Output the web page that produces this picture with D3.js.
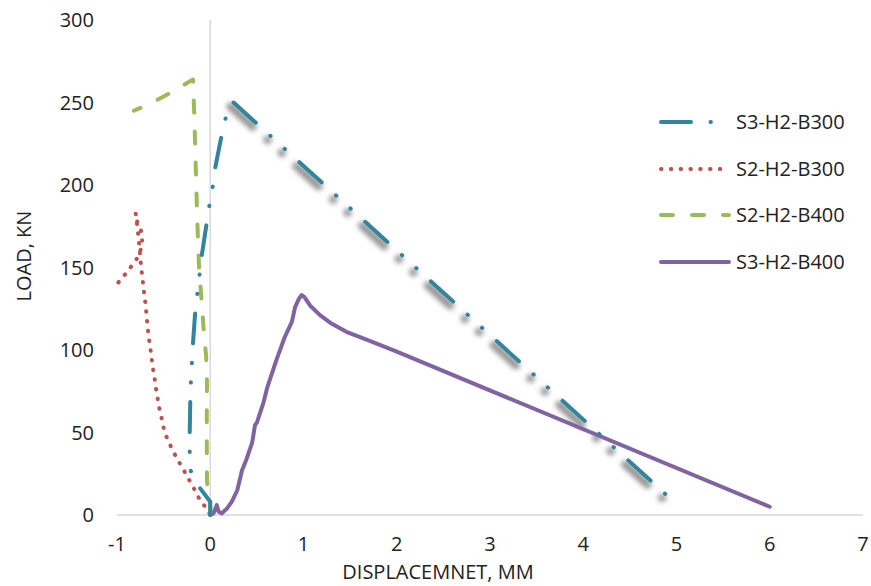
<!DOCTYPE html>
<html><head><meta charset="utf-8">
<script src="https://cdn.jsdelivr.net/npm/d3@7"></script>
<style>
body{margin:0;background:#fff;}
svg{display:block;font-family:'Open Sans',sans-serif;}
</style></head><body>
<div id="chart"></div>
<script>
const xTicks = [-1,0,1,2,3,4,5,6,7];
const yTicks = [0,50,100,150,200,250,300];
const seriesNames = ["S3-H2-B300","S2-H2-B300","S2-H2-B400","S3-H2-B400"];
const colors = ["#31859C","#C0504D","#9BBB59","#8064A2"];

// S3-H2-B300 [displacement, load]
const s3b300 = [[0,0],[0,8],[-0.13,17.8],[-0.214,27.3],[-0.22,38.8],[-0.22,50],[-0.214,70],[-0.207,81.4],[-0.196,93],[-0.185,104],[-0.16,124],[-0.09,157.6],[-0.036,177.8],[-0.007,188.5],[0.029,199.8],[0.054,210.7],[0.125,231],[0.17,241.8],[0.25,250],[4.92,10.7]];
// S2-H2-B300
const s2b300 = [[-0.985,141],[-0.91,146],[-0.85,150.5],[-0.79,155],[-0.75,160],[-0.73,166],[-0.74,172],[-0.78,177],[-0.80,183],[-0.775,171],[-0.764,165],[-0.747,154],[-0.736,148],[-0.725,142.4],[-0.715,136.8],[-0.70,131],[-0.69,125],[-0.68,119],[-0.67,113],[-0.66,108],[-0.645,102],[-0.63,96],[-0.62,90],[-0.60,85],[-0.59,79],[-0.57,73],[-0.555,67],[-0.535,62],[-0.51,56],[-0.49,50],[-0.45,45],[-0.41,40],[-0.36,34.5],[-0.31,29.7],[-0.26,24.8],[-0.21,19.6],[-0.16,14.5],[-0.11,9],[-0.05,4.8],[0,0]];
// S2-H2-B400
const s2b400 = [[0,0],[0,5],[-0.035,20],[-0.037,40],[-0.037,60],[-0.035,80],[-0.045,97],[-0.065,108],[-0.08,120],[-0.1,135],[-0.12,150],[-0.13,165],[-0.14,180],[-0.15,200],[-0.16,220],[-0.17,240],[-0.185,264],[-0.36,258],[-0.52,253],[-0.66,249],[-0.82,245]];
// S3-H2-B400
const s3b400 = [[0,0],[0.035,1],[0.07,6],[0.09,2],[0.125,1],[0.18,4],[0.23,8],[0.29,15],[0.34,27],[0.39,34],[0.45,44],[0.48,54.5],[0.5,56],[0.57,68],[0.61,77],[0.71,94],[0.8,108],[0.875,117],[0.91,126],[0.95,131],[0.98,133.3],[1.01,132],[1.07,127],[1.18,121],[1.30,116],[1.46,111],[1.71,105.5],[2.0,99],[6.0,5]];

const W=871,H=586;
const svg=d3.select("#chart").append("svg").attr("width",W).attr("height",H);
const x=d3.scaleLinear().domain([-1,7]).range([117,863]);
const y=d3.scaleLinear().domain([0,300]).range([515,20]);

const defs=svg.append("defs");
const f=defs.append("filter").attr("id","blur").attr("x","-20%").attr("y","-20%").attr("width","140%").attr("height","140%");
f.append("feGaussianBlur").attr("stdDeviation",2.5);

// axis lines
svg.append("line").attr("x1",x(-1)).attr("x2",x(7)).attr("y1",y(0)).attr("y2",y(0)).attr("stroke","#d9d9d9").attr("stroke-width",1.5);
svg.append("line").attr("x1",x(0)).attr("x2",x(0)).attr("y1",y(300)).attr("y2",y(0)).attr("stroke","#d9d9d9").attr("stroke-width",1.5);

const fs=20;
// tick labels
svg.append("g").selectAll("text").data(xTicks).join("text")
  .attr("x",d=>x(d)).attr("y",551).attr("text-anchor","middle")
  .attr("font-size",fs).attr("fill","#222").text(d=>d);
svg.append("g").selectAll("text").data(yTicks).join("text")
  .attr("x",94).attr("y",d=>y(d)).attr("dy","0.35em").attr("text-anchor","end")
  .attr("font-size",fs).attr("fill","#222").text(d=>d);

svg.append("text").attr("x",438).attr("y",579).attr("text-anchor","middle").attr("font-size",fs).attr("fill","#222").text("DISPLACEMNET, MM");
svg.append("text").attr("transform","translate(31,256) rotate(-90)").attr("text-anchor","middle").attr("font-size",fs).attr("fill","#222").text("LOAD, KN");

const line=d3.line().x(d=>x(d[0])).y(d=>y(d[1]));
const styles=[
  {dash:"30,19.5,0.4,19,0.4,19.5",w:4},
  {dash:"0.5,9.3",w:4},
  {dash:"12,19",w:4},
  {dash:null,w:4}
];

// teal series split at its peak so the dash pattern restarts there
const peakIdx = d3.maxIndex(s3b300, d=>d[1]);
const tealUp = s3b300.slice(0, peakIdx+1);
const tealDown = s3b300.slice(peakIdx);

// shadow for teal descending part
svg.append("path").datum(tealDown)
  .attr("d",line).attr("fill","none").attr("stroke","#8a8a8a").attr("stroke-opacity",0.9)
  .attr("stroke-width",8).attr("stroke-linecap","round").attr("stroke-dasharray",styles[0].dash)
  .attr("transform","translate(-3,4)").attr("filter","url(#blur)");

const drawn=[[s3b400,3],[s2b400,2],[s2b300,1],[tealUp,0],[tealDown,0]];
drawn.forEach(([d,i])=>{
  svg.append("path").datum(d).attr("d",line).attr("fill","none")
    .attr("stroke",colors[i]).attr("stroke-width",styles[i].w)
    .attr("stroke-linecap","round").attr("stroke-linejoin","round")
    .attr("stroke-dasharray",styles[i].dash);
});

// legend
const ly=[122,169,215,262];
const lg=svg.append("g");
seriesNames.forEach((n,i)=>{
  lg.append("line").attr("x1",661).attr("x2",729).attr("y1",ly[i]).attr("y2",ly[i])
    .attr("stroke",colors[i]).attr("stroke-width",4).attr("stroke-linecap","round")
    .attr("stroke-dasharray",styles[i].dash);
  lg.append("text").attr("x",736).attr("y",ly[i]).attr("dy","0.35em").attr("font-size",fs).attr("fill","#222").text(n);
});
</script></body></html>
